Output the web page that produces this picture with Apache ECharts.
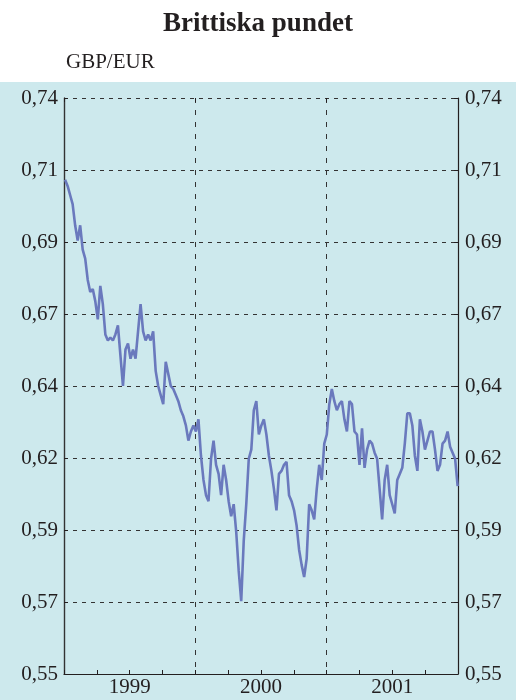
<!DOCTYPE html>
<html>
<head>
<meta charset="utf-8">
<script src="https://cdn.jsdelivr.net/npm/echarts@6/dist/echarts.min.js"></script>
<style>
html,body{margin:0;padding:0;background:#fff;}
#chart{width:516px;height:700px;}
</style>
</head>
<body>
<div id="chart"></div>
<script>
const titleText = 'Brittiska pundet';
const unitText = 'GBP/EUR';
const yTickValues = [0.55, 0.57375, 0.5975, 0.62125, 0.645, 0.66875, 0.6925, 0.71625, 0.74];
const yTickLabels = ['0,55', '0,57', '0,59', '0,62', '0,64', '0,67', '0,69', '0,71', '0,74'];
const yearLabels = ['1999', '2000', '2001'];
const quarterLabels = ['Q1', 'Q2', 'Q3', 'Q4', 'Q1', 'Q2', 'Q3', 'Q4', 'Q1', 'Q2', 'Q3', 'Q4'];

const dates = [
'1999-01-04','1999-01-11','1999-01-18','1999-01-25','1999-02-01','1999-02-08','1999-02-15','1999-02-22',
'1999-03-01','1999-03-08','1999-03-15','1999-03-22','1999-03-29','1999-04-05','1999-04-12','1999-04-19',
'1999-04-26','1999-05-03','1999-05-10','1999-05-17','1999-05-24','1999-05-31','1999-06-07','1999-06-14',
'1999-06-21','1999-06-28','1999-07-05','1999-07-12','1999-07-19','1999-07-26','1999-08-02','1999-08-09',
'1999-08-16','1999-08-23','1999-08-30','1999-09-06','1999-09-13','1999-09-20','1999-09-27','1999-10-04',
'1999-10-11','1999-10-18','1999-10-25','1999-11-01','1999-11-08','1999-11-15','1999-11-22','1999-11-29',
'1999-12-06','1999-12-13','1999-12-20','1999-12-27',
'2000-01-03','2000-01-10','2000-01-17','2000-01-24','2000-01-31','2000-02-07','2000-02-14','2000-02-21',
'2000-02-28','2000-03-06','2000-03-13','2000-03-20','2000-03-27','2000-04-03','2000-04-10','2000-04-17',
'2000-04-24','2000-05-01','2000-05-08','2000-05-15','2000-05-22','2000-05-29','2000-06-05','2000-06-12',
'2000-06-19','2000-06-26','2000-07-03','2000-07-10','2000-07-17','2000-07-24','2000-07-31','2000-08-07',
'2000-08-14','2000-08-21','2000-08-28','2000-09-04','2000-09-11','2000-09-18','2000-09-25','2000-10-02',
'2000-10-09','2000-10-16','2000-10-23','2000-10-30','2000-11-06','2000-11-13','2000-11-20','2000-11-27',
'2000-12-04','2000-12-11','2000-12-18','2000-12-25',
'2001-01-01','2001-01-08','2001-01-15','2001-01-22','2001-01-29','2001-02-05','2001-02-12','2001-02-19',
'2001-02-26','2001-03-05','2001-03-12','2001-03-19','2001-03-26','2001-04-02','2001-04-09','2001-04-16',
'2001-04-23','2001-04-30','2001-05-07','2001-05-14','2001-05-21','2001-05-28','2001-06-04','2001-06-11',
'2001-06-18','2001-06-25','2001-07-02','2001-07-09','2001-07-16','2001-07-23','2001-07-30','2001-08-06',
'2001-08-13','2001-08-20','2001-08-27','2001-09-03','2001-09-10','2001-09-17','2001-09-24','2001-10-01',
'2001-10-08','2001-10-15','2001-10-22','2001-10-29','2001-11-05','2001-11-12','2001-11-19','2001-11-26',
'2001-12-03','2001-12-10','2001-12-17','2001-12-24','2001-12-31'
];

const gbpEur = [
0.713,0.711,0.708,0.705,0.698,0.693,0.698,0.690,
0.687,0.680,0.676,0.677,0.673,0.667,0.678,0.672,
0.662,0.660,0.661,0.660,0.662,0.665,0.655,0.645,
0.657,0.659,0.654,0.657,0.654,0.663,0.672,0.663,
0.660,0.662,0.660,0.663,0.650,0.645,0.642,0.639,
0.653,0.649,0.645,0.644,0.642,0.640,0.637,0.635,
0.632,0.627,0.630,0.632,
0.630,0.634,0.622,0.614,0.609,0.607,0.621,0.627,
0.619,0.616,0.609,0.619,0.614,0.607,0.602,0.606,
0.597,0.584,0.574,0.594,0.606,0.621,0.624,0.637,
0.640,0.629,0.632,0.634,0.629,0.622,0.617,0.611,
0.604,0.616,0.617,0.619,0.620,0.609,0.607,0.604,
0.599,0.591,0.586,0.582,0.588,0.606,0.604,0.601,
0.611,0.619,0.614,0.626,
0.629,0.639,0.644,0.640,0.637,0.639,0.640,0.634,
0.630,0.640,0.639,0.630,0.629,0.619,0.631,0.618,
0.624,0.627,0.626,0.623,0.621,0.611,0.601,0.614,
0.619,0.609,0.606,0.603,0.614,0.616,0.618,0.626,
0.636,0.636,0.632,0.622,0.617,0.634,0.630,0.624,
0.627,0.630,0.630,0.624,0.617,0.619,0.626,0.627,
0.630,0.625,0.623,0.621,0.612
];

const FONT = '"Liberation Serif", "Times New Roman", serif';
const INK = '#231f20';
const seriesData = dates.map((d, i) => [d, gbpEur[i]]);

function yLabel(v) {
  for (let i = 0; i < yTickValues.length; i++) {
    if (Math.abs(yTickValues[i] - v) < 1e-6) return yTickLabels[i];
  }
  return '';
}

const dashedH = { color: '#333', width: 1, type: [4, 5] };
const dashedV = { color: '#333', width: 1, type: [5, 7] };

const chart = echarts.init(document.getElementById('chart'), null, { renderer: 'canvas' });
chart.setOption({
  animation: false,
  backgroundColor: '#ffffff',
  graphic: [{
    type: 'rect', z: -10, silent: true,
    shape: { x: 0, y: 82, width: 516, height: 618 },
    style: { fill: '#cde9ed' }
  }],
  title: [{
    text: titleText, left: 'center', top: 6,
    textStyle: { fontFamily: FONT, fontSize: 27, fontWeight: 'bold', color: INK }
  }, {
    text: unitText, left: 61, top: 47,
    textStyle: { fontFamily: FONT, fontSize: 21, fontWeight: 'normal', color: INK }
  }],
  grid: { left: 64, right: 58, top: 98, bottom: 26, containLabel: false },
  xAxis: [{
    type: 'time', min: '1999-01-01', max: '2002-01-01', position: 'bottom',
    axisLine: { show: true, lineStyle: { color: INK, width: 1.2 } },
    axisTick: { show: false }, axisLabel: { show: false }, splitLine: { show: false }
  }, {
    type: 'category', data: quarterLabels, boundaryGap: true, position: 'bottom',
    axisLine: { show: false },
    axisTick: { show: true, inside: true, length: 4, interval: 0, lineStyle: { color: INK } },
    axisLabel: { show: false }, splitLine: { show: false }
  }, {
    type: 'category', data: yearLabels, boundaryGap: true, position: 'bottom',
    axisLine: { show: false }, axisTick: { show: false },
    axisLabel: { show: true, fontFamily: FONT, fontSize: 21, color: INK, margin: 3 },
    splitLine: { show: true, interval: 0, lineStyle: dashedV }
  }, {
    type: 'category', data: yearLabels, boundaryGap: true, position: 'top',
    axisLine: { show: false },
    axisTick: { show: true, inside: true, length: 4, interval: 0, lineStyle: { color: INK } },
    axisLabel: { show: false }, splitLine: { show: false }
  }],
  yAxis: [{
    type: 'value', min: 0.55, max: 0.74, position: 'left',
    axisLine: { show: true, lineStyle: { color: '#333', width: 1.4 } },
    axisTick: { show: true, inside: true, length: 4, customValues: yTickValues, lineStyle: { color: INK } },
    axisLabel: { customValues: yTickValues, formatter: yLabel, fontFamily: FONT, fontSize: 21, color: INK, margin: 6 },
    splitLine: { show: true, lineStyle: dashedH }
  }, {
    type: 'value', min: 0.55, max: 0.74, position: 'right',
    axisLine: { show: true, lineStyle: { color: INK, width: 1.2 } },
    axisTick: { show: true, inside: true, length: 4, customValues: yTickValues, lineStyle: { color: INK } },
    axisLabel: { customValues: yTickValues, formatter: yLabel, fontFamily: FONT, fontSize: 21, color: INK, margin: 7 },
    splitLine: { show: false }
  }],
  series: [{
    type: 'line', xAxisIndex: 0, yAxisIndex: 0,
    data: seriesData, showSymbol: false, symbol: 'none',
    lineStyle: { color: '#6a79bd', width: 2.6 },
    z: 5
  }]
});
</script>
</body>
</html>
